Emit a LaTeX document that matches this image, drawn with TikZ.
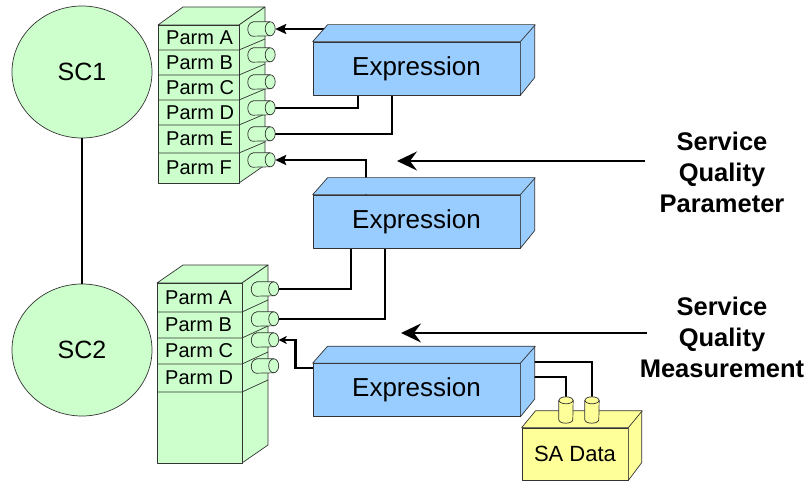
\documentclass[tikz,border=0pt]{standalone}
\usepackage{fontspec}
\setmainfont{Liberation Sans}
\usetikzlibrary{shapes.geometric,arrows.meta}
\pgfdeclarelayer{wires}
\pgfsetlayers{wires,main}
\definecolor{parmgreen}{HTML}{CCFFCC}
\definecolor{exprblue}{HTML}{99CCFF}
\definecolor{sayellow}{HTML}{FFFF99}
\definecolor{rim}{HTML}{333333}
\tikzset{
  face/.style={draw=rim,line width=0.7pt,line join=round},
  sc/.style={ellipse,face,fill=parmgreen,minimum width=140,minimum height=132,
    font=\fontsize{25}{30}\selectfont},
  expr/.style={rectangle,face,fill=exprblue,minimum width=207,minimum height=53,
    inner sep=0,font=\fontsize{26}{30}\selectfont},
  sabox/.style={expr,fill=sayellow,minimum width=106,minimum height=52,
    font=\fontsize{22}{26}\selectfont},
  parm/.style={anchor=west,inner sep=0,font=\fontsize{20}{24}\selectfont},
  plug/.style={rectangle,inner sep=0,minimum width=27,minimum height=14},
  can/.style={rectangle,inner sep=0,minimum width=14,minimum height=26},
  wire/.style={line width=2.4pt},
  sqlabel/.style={align=center,font=\fontsize{25.5}{31}\selectfont\bfseries},
}
% horizontal plug: rounded back end, open face to the east
\newcommand\plugshape[2]{%
  \draw[face,fill=#2] ([xshift=5pt]#1.north west) -- ([xshift=-5pt]#1.north east)
    arc[start angle=90,end angle=-90,x radius=5pt,y radius=7pt]
    -- ([xshift=5pt]#1.south west)
    arc[start angle=270,end angle=90,x radius=5pt,y radius=7pt] -- cycle;
  \draw[face] ([xshift=-5pt]#1.north east)
    arc[start angle=90,end angle=270,x radius=5pt,y radius=7pt];
}
% upright can: face on top
\newcommand\canshape[2]{%
  \draw[face,fill=#2] ([yshift=-3.5pt]#1.north west) -- ([yshift=3.5pt]#1.south west)
    arc[start angle=180,end angle=360,x radius=7pt,y radius=3.5pt]
    -- ([yshift=-3.5pt]#1.north east) -- cycle;
  \draw[face,fill=#2] ([yshift=-3.5pt]#1.north) ellipse[x radius=7pt,y radius=3.5pt];
}
\begin{document}
\begin{tikzpicture}[x=1pt,y=-1pt,>={Stealth[length=11pt,width=10pt,inset=2pt]}]
\useasboundingbox (0,0) rectangle (812,484);
% service cells
\node[sc] (sc1) at (82,72) {SC1};
\node[sc] (sc2) at (82,350) {SC2};
\draw[wire] (sc1) -- (sc2);
% parameter block of SC1
\draw[face,fill=parmgreen] (158,25) -- (183,7) -- (265,7) -- (239,25) -- cycle;
\draw[face,fill=parmgreen] (239,25) -- (265,7) -- (265,165) -- (239,183) -- cycle;
\draw[face,fill=parmgreen] (158,25) rectangle (239,183);
\foreach \y in {50,75,100,125,153}
  \draw[face] (158,\y) -- (239,\y) -- ++(26,-11);
\foreach \lab/\y/\p in {A/37.5/29,B/62.5/55,C/87.5/82,D/112.5/108,E/139/134,F/168/160}{
  \node[parm] (ua\lab) at (166,\y) {Parm \lab};
  \node[plug] (up\lab) at (261.5,\p) {};
  \plugshape{up\lab}{parmgreen}
}
% parameter block of SC2
\draw[face,fill=parmgreen] (157,283) -- (183,265) -- (268,265) -- (242,283) -- cycle;
\draw[face,fill=parmgreen] (242,283) -- (268,265) -- (268,445) -- (242,463) -- cycle;
\draw[face,fill=parmgreen] (157,283) rectangle (242,463);
\foreach \y in {312,338,364,392}
  \draw[face] (157,\y) -- (242,\y) -- ++(26,-12);
\foreach \lab/\y/\p in {A/297.5/289,B/325/319,C/351/340,D/378/366}{
  \node[parm] (lb\lab) at (165,\y) {Parm \lab};
  \node[plug] (lo\lab) at (265,\p) {};
  \plugshape{lo\lab}{parmgreen}
}
% expressions
\foreach \n/\y in {1/68.5,2/221.5,3/390}{
  \node[expr] (ex\n) at (416.5,\y) {Expression};
  \draw[face,fill=exprblue] (ex\n.north west) -- ++(15,-17) -- ++(207,0) -- ++(0,53)
    -- (ex\n.south east) -- (ex\n.north east) -- cycle;
  \draw[face] (ex\n.north east) -- ++(15,-17);
}
% SA data
\node[sabox] (sa) at (575,454) {SA Data};
\draw[face,fill=sayellow] (sa.north west) -- ++(14,-17) -- ++(106,0) -- ++(0,52)
  -- (sa.south east) -- (sa.north east) -- cycle;
\draw[face] (sa.north east) -- ++(14,-17);
\node[can] (can1) at (566,410) {};
\node[can] (can2) at (592,410) {};
\canshape{can1}{sayellow}
\canshape{can2}{sayellow}
% wires
\begin{pgfonlayer}{wires}
\draw[wire,<-] (upA.east) -- (upA.east -| ex1.center);
\draw[wire] (upD.east) -| ([xshift=-58.5pt]ex1.center);
\draw[wire] (upE.east) -| ([xshift=-24.5pt]ex1.center);
\draw[wire,<-] (upF.east) -| ([xshift=-50.5pt]ex2.center);
\draw[wire] (loA.east) -| ([xshift=-65.5pt]ex2.center);
\draw[wire] (loB.east) -| ([xshift=-31.5pt]ex2.center);
\draw[wire,->,>={Stealth[length=8pt,width=8pt,inset=2pt]}]
  ([yshift=22pt]ex3.west) -- ++(-17,0) |- (loC.east);
\draw[wire] ([yshift=28pt]ex3.center) -| (can2.center);
\draw[wire] ([yshift=13pt]ex3.center) -| (can1.center);
\end{pgfonlayer}
% labels
\node[sqlabel] (sqp) at (722,172) {Service\\Quality\\Parameter};
\node[sqlabel] (sqm) at (722,337) {Service\\Quality\\Measurement};
\coordinate (sqpfrom) at (645,161);
\coordinate (sqpto) at (397,161);
\coordinate (sqmfrom) at (647,333);
\coordinate (sqmto) at (401,333);
\draw[line width=1.8pt,-{Stealth[length=20pt,width=19pt,inset=7pt]}] (sqpfrom) -- (sqpto);
\draw[line width=1.8pt,-{Stealth[length=20pt,width=19pt,inset=7pt]}] (sqmfrom) -- (sqmto);
\end{tikzpicture}
\end{document}
